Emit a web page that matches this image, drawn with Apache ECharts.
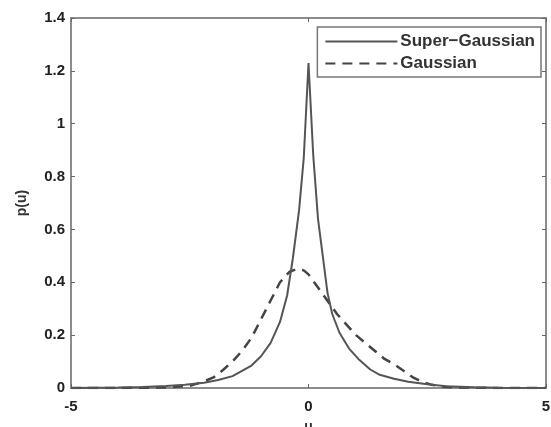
<!DOCTYPE html>
<html>
<head>
<meta charset="utf-8">
<script src="https://cdn.jsdelivr.net/npm/echarts@6/dist/echarts.min.js"></script>
<style>
  html, body { margin: 0; padding: 0; background: #fff; }
  #chart { width: 551px; height: 427px; }
</style>
</head>
<body>
<div id="chart"></div>
<script>
// values
var superU = [-5, -4.5, -4, -3.5, -3, -2.6, -2.2, -1.9, -1.6, -1.4, -1.2, -1.0, -0.8, -0.6, -0.45, -0.33, -0.2, -0.1, 0,
	0.1, 0.2, 0.3, 0.4, 0.5, 0.65, 0.85, 1.05, 1.3, 1.5, 1.8, 2.1, 2.5, 2.9, 3.5, 4, 5];
var superP = [0, 0.001, 0.002, 0.004, 0.008, 0.012, 0.02, 0.03, 0.045, 0.065, 0.085, 0.12, 0.17, 0.25, 0.35, 0.49, 0.67, 0.87, 1.23,
	0.88, 0.64, 0.5, 0.36, 0.28, 0.21, 0.15, 0.11, 0.07, 0.05, 0.035, 0.024, 0.014, 0.007, 0.003, 0.001, 0];

var gaussU = [-5, -4, -3, -2.5, -2.2, -2.0, -1.8, -1.6, -1.4, -1.2, -1.0, -0.8, -0.6, -0.4, -0.25, -0.1, 0,
	0.2, 0.4, 0.6, 0.8, 1.0, 1.2, 1.4, 1.6, 1.8, 2.0, 2.2, 2.4, 2.6, 2.8, 3.0, 3.5, 4, 5];
var gaussP = [0, 0, 0.002, 0.008, 0.025, 0.04, 0.068, 0.1, 0.14, 0.19, 0.26, 0.33, 0.4, 0.44, 0.45, 0.445, 0.43,
	0.38, 0.33, 0.28, 0.24, 0.2, 0.17, 0.14, 0.11, 0.09, 0.065, 0.04, 0.023, 0.012, 0.006, 0.003, 0.001, 0, 0];

var names = ['Super\u2212Gaussian', 'Gaussian'];

function pairs(u, p) {
	var out = [];
	for (var i = 0; i < u.length; i++) {
		out.push([u[i], p[i]]);
	}
	return out;
}

var chart = echarts.init(document.getElementById('chart'));

var font = 'Liberation Sans, Arial, sans-serif';
var axisGrey = '#8c8c8c';
var tickStyle = { inside: true, length: 4, lineStyle: { color: '#666' } };

var option = {
	animation: false,
	textStyle: { fontFamily: font },
	grid: {
		left: 71, right: 5, top: 18, bottom: 39,
		outerBoundsMode: 'none',
		containLabel: false,
		show: true, borderColor: axisGrey, borderWidth: 2
	},
	legend: {
		data: names,
		orient: 'vertical',
		right: 10, top: 27,
		itemWidth: 72, itemHeight: 14, itemGap: 5,
		padding: [6, 6, 5, 7],
		borderColor: '#777', borderWidth: 1.5,
		backgroundColor: '#fff',
		itemStyle: { opacity: 0 },
		textStyle: { fontSize: 17, fontWeight: 'bold', color: '#333', fontFamily: font, padding: [0, 0, 0, -2] }
	},
	xAxis: [{
		type: 'value', min: -5, max: 5, interval: 5,
		name: 'u', nameLocation: 'middle', nameGap: 32,
		nameTextStyle: { fontSize: 14, fontWeight: 'bold', color: '#333' },
		axisLine: { onZero: false, lineStyle: { color: axisGrey, width: 2 } },
		axisTick: tickStyle,
		axisLabel: { fontSize: 15, fontWeight: 'bold', color: '#222', margin: 11 },
		splitLine: { show: false }
	}, {
		type: 'value', min: -5, max: 5, interval: 5, position: 'top',
		axisLine: { show: false, onZero: false },
		axisTick: tickStyle,
		axisLabel: { show: false },
		splitLine: { show: false }
	}],
	yAxis: [{
		type: 'value', min: 0, max: 1.4, interval: 0.2,
		name: 'p(u)', nameLocation: 'middle', nameGap: 42,
		nameTextStyle: { fontSize: 14, fontWeight: 'bold', color: '#333' },
		axisLine: { show: true, onZero: false, lineStyle: { color: axisGrey, width: 2 } },
		axisTick: tickStyle,
		axisLabel: { fontSize: 15, fontWeight: 'bold', color: '#222', margin: 6 },
		splitLine: { show: false }
	}, {
		type: 'value', min: 0, max: 1.4, interval: 0.2, position: 'right',
		axisLine: { show: false, onZero: false },
		axisTick: tickStyle,
		axisLabel: { show: false },
		splitLine: { show: false }
	}],
	series: [{
		name: names[0],
		type: 'line',
		symbol: 'none',
		data: pairs(superU, superP),
		lineStyle: { color: '#555', width: 2 },
		itemStyle: { color: '#555' },
		z: 3
	}, {
		name: names[1],
		type: 'line',
		symbol: 'none',
		data: pairs(gaussU, gaussP),
		lineStyle: { color: '#444', width: 2.5, type: [10, 7] },
		itemStyle: { color: '#444' },
		z: 2
	}]
};

chart.setOption(option);
</script>
</body>
</html>
